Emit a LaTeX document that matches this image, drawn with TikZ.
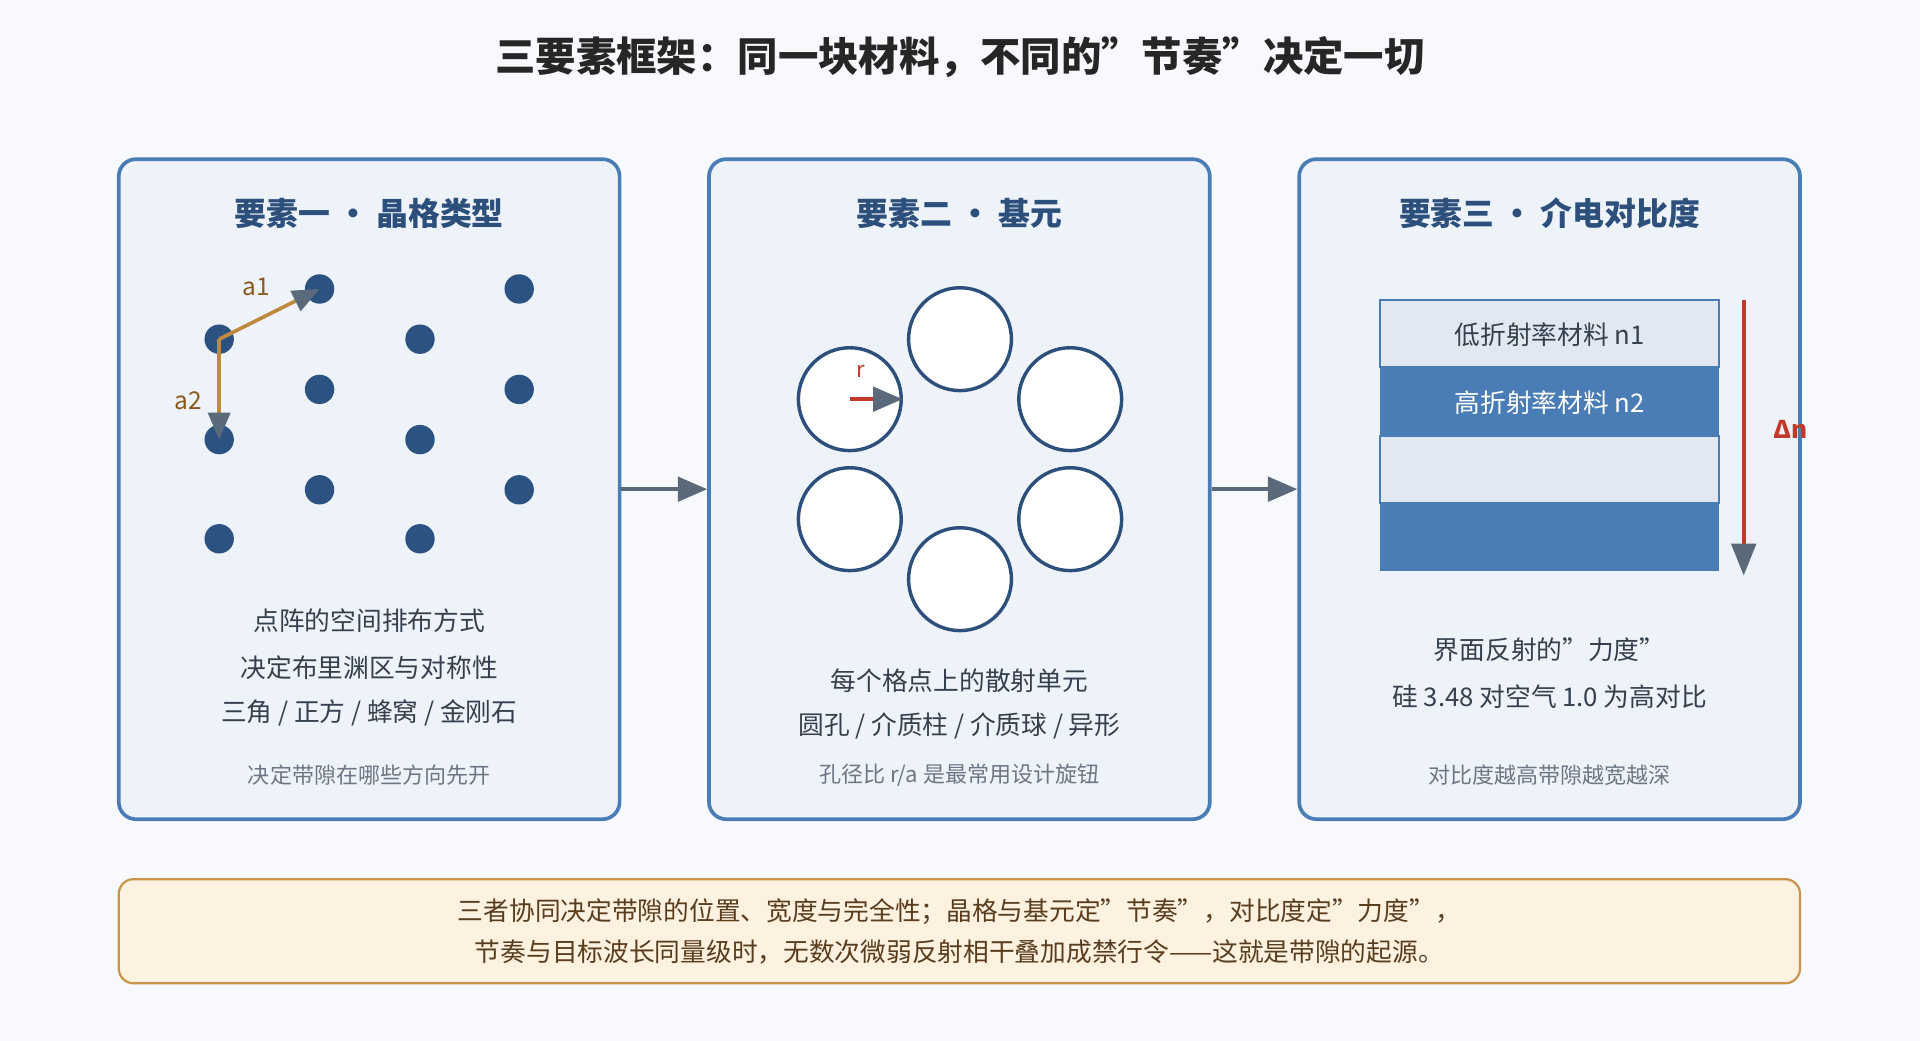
\documentclass[tikz,border=0pt]{standalone}
\usepackage{fontspec}
\setmainfont{Noto Sans CJK SC}
\usetikzlibrary{arrows.meta}
\definecolor{bg}{HTML}{F7F9FC}
\definecolor{pfill}{HTML}{EEF3FA}
\definecolor{pborder}{HTML}{4A7DB5}
\definecolor{ptitle}{HTML}{2C4F7C}
\definecolor{dot}{HTML}{2C5282}
\definecolor{txt}{HTML}{34404E}
\definecolor{sub}{HTML}{6B7785}
\definecolor{agrey}{HTML}{5A6A7A}
\definecolor{orng}{HTML}{C08A3E}
\definecolor{brn}{HTML}{8B5A1A}
\definecolor{lite}{HTML}{E2E8F2}
\definecolor{redd}{HTML}{C0392B}
\definecolor{nfill}{HTML}{FDF1E0}
\definecolor{nborder}{HTML}{C8944A}
\definecolor{ntxt}{HTML}{5A3D1E}
\begin{document}
\begin{tikzpicture}[x=0.5pt,y=-0.5pt,
  panel/.style={draw=pborder,fill=pfill,line width=1.5pt,rounded corners=7pt},
  ptitle/.style={font=\fontsize{13}{15}\selectfont\bfseries,text=ptitle},
  body/.style={font=\fontsize{10.5}{13}\selectfont,text=txt},
  small/.style={font=\fontsize{9}{11}\selectfont,text=sub},
  dotn/.style={circle,fill=dot,minimum size=12pt,inner sep=0},
  hole/.style={circle,draw=ptitle,fill=white,line width=1.4pt,minimum size=42pt,inner sep=0},
  conn/.style={draw=agrey,line width=1.5pt,-{Triangle[length=12pt,width=10pt]}},
  vec/.style={draw=orng,line width=1.5pt,-{Triangle[length=11pt,width=9pt,color=agrey]}}]
\fill[bg] (0,0) rectangle (1568,850);
\useasboundingbox (0,0) rectangle (1568,850);
\node[font=\fontsize{16.5}{19}\selectfont\bfseries,text=black!85] (title) at (784,47) {三要素框架：同一块材料，不同的"节奏"决定一切};
% panels
\node[panel,minimum width=204.5pt,minimum height=269.5pt] (p1) at (301.5,399.5) {};
\node[panel,minimum width=204.5pt,minimum height=269.5pt] (p2) at (783.5,399.5) {};
\node[panel,minimum width=204.5pt,minimum height=269.5pt] (p3) at (1265.5,399.5) {};
\node[ptitle] (t1) at (301.5,174) {要素一 · 晶格类型};
\node[ptitle] (t2) at (783.5,174) {要素二 · 基元};
\node[ptitle] (t3) at (1265.5,174) {要素三 · 介电对比度};
% lattice
\foreach \n/\x/\y in {d1/179/277,d2/179/359,d3/179/440,d4/261/236,d5/261/318,d6/261/400,d7/343/277,d8/343/359,d9/343/440,d10/424/236,d11/424/318,d12/424/400}
  \node[dotn] (\n) at (\x,\y) {};
\draw[vec] (d1.center) -- (d4.center);
\draw[vec] (d1.center) -- (d2.center);
\node[font=\fontsize{10}{12}\selectfont,text=brn] (la1) at (209,234) {a1};
\node[font=\fontsize{10}{12}\selectfont,text=brn] (la2) at (154,327) {a2};
\node[body] (b11) at (301.5,507) {点阵的空间排布方式};
\node[body] (b12) at (301.5,545) {决定布里渊区与对称性};
\node[body] (b13) at (301.5,582) {三角 / 正方 / 蜂窝 / 金刚石};
\node[small] (s1) at (301.5,633) {决定带隙在哪些方向先开};
% basis
\foreach \n/\x/\y in {h1/784/277,h2/874/326,h3/874/424,h4/784/473,h5/694/424,h6/694/326}
  \node[hole] (\n) at (\x,\y) {};
\coordinate (rt) at (737,326);
\draw[draw=redd,line width=1.5pt,-{Triangle[length=12pt,width=10pt,color=agrey]}] (h6.center) -- (rt);
\node[font=\fontsize{9}{11}\selectfont,text=redd] (lr) at (703,303) {r};
\node[body] (b21) at (783.5,556) {每个格点上的散射单元};
\node[body] (b22) at (783.5,593) {圆孔 / 介质柱 / 介质球 / 异形};
\node[small] (s2) at (783.5,633) {孔径比 r/a 是最常用设计旋钮};
% contrast
\draw[draw=pborder,fill=lite,line width=0.8pt] (1127,245) rectangle (1404,300);
\fill[pborder] (1127,300) rectangle (1404,356);
\draw[draw=pborder,fill=lite,line width=0.8pt] (1127,356) rectangle (1404,411);
\fill[pborder] (1127,411) rectangle (1404,466);
\node[body] (l1) at (1265.5,273) {低折射率材料 n1};
\node[body,text=white] (l2) at (1265.5,329) {高折射率材料 n2};
\coordinate (dn1) at (1424,245);
\coordinate (dn2) at (1424,470);
\draw[draw=redd,line width=1.5pt,-{Triangle[length=13pt,width=10pt,color=agrey]}] (dn1) -- (dn2);
\node[font=\fontsize{10}{12}\selectfont\bfseries,text=redd] (dn) at (1462,351) {Δn};
\node[body] (b31) at (1265.5,531) {界面反射的"力度"};
\node[body] (b32) at (1265.5,569) {硅 3.48 对空气 1.0 为高对比};
\node[small] (s3) at (1265.5,633) {对比度越高带隙越宽越深};
% connectors
\draw[conn] (p1.east) -- (p2.west);
\draw[conn] (p2.east) -- (p3.west);
% note
\node[draw=nborder,fill=nfill,line width=0.9pt,rounded corners=6pt,minimum width=686.5pt,minimum height=42.5pt,align=center,font=\fontsize{10.5}{16.5}\selectfont,text=ntxt] (note) at (783.5,760.5) {三者协同决定带隙的位置、宽度与完全性；晶格与基元定"节奏"，对比度定"力度"，\\节奏与目标波长同量级时，无数次微弱反射相干叠加成禁行令——这就是带隙的起源。};
\end{tikzpicture}
\end{document}
